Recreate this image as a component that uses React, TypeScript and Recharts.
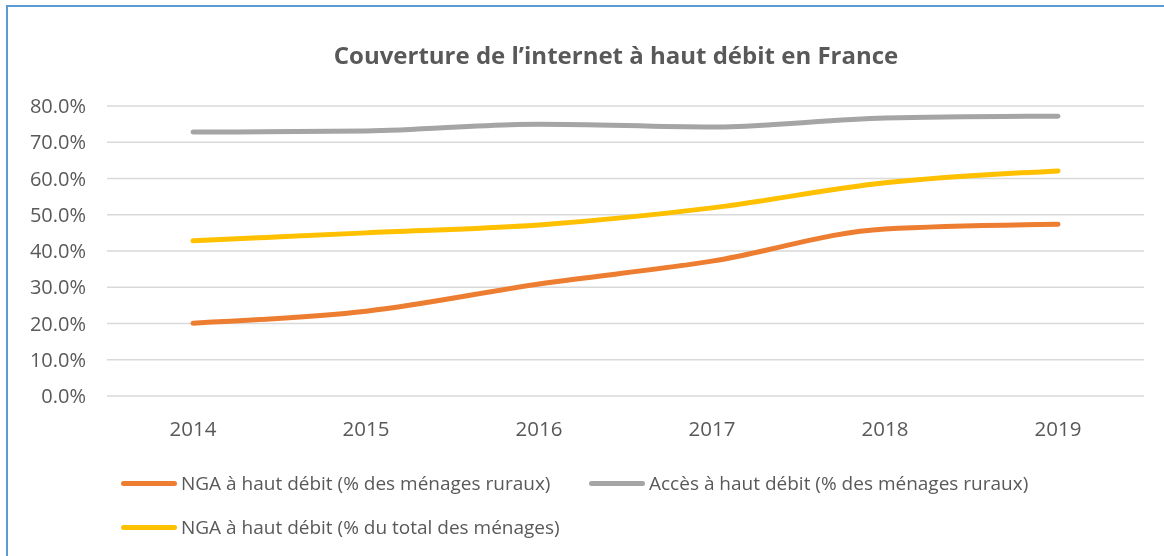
import React from 'react';
import { LineChart, Line, XAxis, YAxis, CartesianGrid, Legend } from 'recharts';

const years = ['2014', '2015', '2016', '2017', '2018', '2019'];
const ngaRural = [0.201, 0.234, 0.309, 0.372, 0.461, 0.474];
const accesRural = [0.728, 0.731, 0.75, 0.742, 0.767, 0.772];
const ngaTotal = [0.428, 0.45, 0.472, 0.519, 0.588, 0.621];
const yTicks = [0, 0.1, 0.2, 0.3, 0.4, 0.5, 0.6, 0.7, 0.8];

const series = [
    { key: 'ngaRural', name: 'NGA à haut débit (% des ménages ruraux)', color: '#ED7D31' },
    { key: 'accesRural', name: 'Accès à haut débit (% des ménages ruraux)', color: '#A5A5A5' },
    { key: 'ngaTotal', name: 'NGA à haut débit (% du total des ménages)', color: '#FFC000' },
];

const data = years.map((year, i) => ({
    year,
    ngaRural: ngaRural[i],
    accesRural: accesRural[i],
    ngaTotal: ngaTotal[i],
}));

const FONT = '"Open Sans", Lato, sans-serif';
const TEXT = '#595959';

const LegendBox = () => {
    const pos = [
        { left: 113, top: 34 },
        { left: 581, top: 34 },
        { left: 113, top: 78 },
    ];
    return (
        <div style={{ position: 'relative', width: 1156, height: 110 }}>
            {series.map((s, i) => (
                <div
                    key={s.key}
                    style={{
                        position: 'absolute',
                        left: pos[i].left,
                        top: pos[i].top,
                        display: 'flex',
                        alignItems: 'center',
                        fontFamily: FONT,
                        fontSize: 19,
                        color: TEXT,
                        whiteSpace: 'nowrap',
                    }}
                >
                    <span
                        style={{
                            display: 'inline-block',
                            width: 56,
                            height: 5,
                            borderRadius: 3,
                            background: s.color,
                            marginRight: 4,
                        }}
                    />
                    {s.name}
                </div>
            ))}
        </div>
    );
};

const App: React.FC = () => {
    return (
        <div style={{ position: 'relative', width: 1156, height: 548, background: '#fff' }}>
            <div
                style={{
                    position: 'fixed',
                    left: 6,
                    top: 5,
                    width: 1180,
                    height: 580,
                    border: '2px solid #5B9BD5',
                    pointerEvents: 'none',
                }}
            />
            <div
                style={{
                    position: 'absolute',
                    left: 0,
                    width: 1216,
                    top: 30,
                    textAlign: 'center',
                    fontFamily: FONT,
                    fontWeight: 700,
                    fontSize: 24,
                    color: TEXT,
                }}
            >
                Couverture de l’internet à haut débit en France
            </div>
            <LineChart
                width={1156}
                height={548}
                data={data}
                margin={{ top: 98, right: 20, bottom: 10, left: 0 }}
            >
                <CartesianGrid vertical={false} stroke="#D9D9D9" strokeWidth={1.5} />
                <XAxis
                    dataKey="year"
                    axisLine={false}
                    tickLine={false}
                    tickSize={0}
                    tickMargin={25}
                    height={40}
                    padding={{ left: 86, right: 86 }}
                    tick={{ fill: TEXT, fontSize: 20.5, fontFamily: FONT }}
                />
                <YAxis
                    domain={[0, 0.8]}
                    ticks={yTicks}
                    axisLine={false}
                    tickLine={false}
                    tickSize={0}
                    tickMargin={21}
                    width={99}
                    tickFormatter={(v: number) => `${(v * 100).toFixed(1)}%`}
                    tick={{ fill: TEXT, fontSize: 20, fontFamily: FONT }}
                />
                <Legend verticalAlign="bottom" content={() => <LegendBox />} />
                {series.map((s) => (
                    <Line
                        key={s.key}
                        type="monotone"
                        dataKey={s.key}
                        name={s.name}
                        stroke={s.color}
                        strokeWidth={5}
                        strokeLinecap="round"
                        dot={false}
                        activeDot={false}
                        isAnimationActive={false}
                    />
                ))}
            </LineChart>
        </div>
    );
};

export default App;
